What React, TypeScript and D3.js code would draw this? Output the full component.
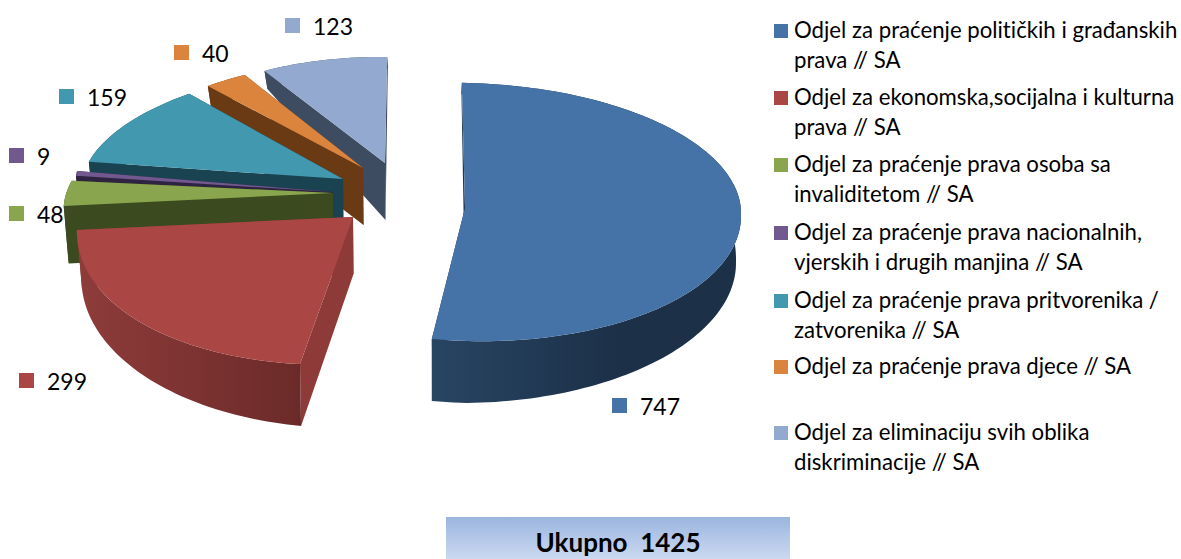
import React from "react";
import * as d3 from "d3";

const W = 1181;
const H = 559;
const FONT = "Lato, Carlito, 'Open Sans', sans-serif";

const values = [747, 299, 48, 9, 159, 40, 123];
const topColors = ["#4572a7", "#aa4643", "#89a54e", "#71588f", "#4198af", "#db843d", "#93a9cf"];
const wallColors = ["#1d3750", "#8d3a38", "#3c4a20", "#2e2340", "#1a4352", "#6a3a14", "#3e4c61"];
const rimFrom = ["#284563", "#8e3c3a", "#3c4a20", "#2e2340", "#1a4352", "#6a3a14", "#3e4c61"];
const rimTo = ["#1c3048", "#6b2a29", "#3c4a20", "#2e2340", "#1a4352", "#6a3a14", "#3e4c61"];

const legendLines = [
  ["Odjel za praćenje političkih i građanskih", "prava // SA"],
  ["Odjel za ekonomska,socijalna i kulturna", "prava // SA"],
  ["Odjel za praćenje prava osoba sa", "invaliditetom // SA"],
  ["Odjel za praćenje prava nacionalnih,", "vjerskih i drugih manjina // SA"],
  ["Odjel za praćenje prava pritvorenika /", "zatvorenika // SA"],
  ["Odjel za praćenje prava djece // SA"],
  ["Odjel za eliminaciju svih oblika", "diskriminacije // SA"],
];
const legendY = [31, 98, 165, 233, 301, 367, 433];
const totalLabel = "Ukupno  1425";

// Where each value label's swatch sits
const labelPos = [
  [612, 398],
  [19, 373],
  [9, 206],
  [9, 148],
  [59, 89],
  [174, 45],
  [285, 18],
];

// Each exploded wedge is seen through its own oblique frame of the unit disc
type Frame = {
  cx: number;
  cy: number;
  rx: number;
  k: number;
  kBack?: number;
  ry: number;
  ryBack?: number;
  t: number;
  bx?: number;
  bulge?: number;
};
const frames: Frame[] = [
  { cx: 465, cy: 208, rx: 276, k: 2, kBack: -3.6, ry: 133, ryBack: 125, t: 7, bx: -1 },
  { cx: 353, cy: 217, rx: 276, k: -18, ry: 149, t: 5.7, bulge: 0.03 },
  { cx: 333, cy: 193, rx: 266, k: -43, ry: 119, t: 1.9 },
  { cx: 333, cy: 192, rx: 258, k: 0, ry: 120, t: 5.8 },
  { cx: 343, cy: 179, rx: 260, k: -30, ry: 113, t: 2.9 },
  { cx: 363, cy: 168, rx: 250, k: -19, ry: 108, t: 3.7 },
  { cx: 385, cy: 163, rx: 237, k: -8, ry: 106, t: 5 },
];

const rad = (d: number) => (d * Math.PI) / 180;
const pie = d3
  .pie<number>()
  .sort(null)
  .startAngle(rad(-1.4))
  .endAngle(rad(358.6));

function project(f: Frame, a: number, r: number, lower: boolean): [number, number] {
  const X = r * Math.sin(a);
  const Y = -r * Math.cos(a);
  const ry = Y < 0 && f.ryBack ? f.ryBack : f.ry;
  const k = Y < 0 && f.kBack !== undefined ? f.kBack : f.k;
  const x = f.cx + f.rx * X + k * Y;
  const y = f.cy + ry * Y + f.t * X;
  if (!lower) return [x, y];
  const h = (Y >= 0 ? 57 + 5 * Y : 57 + 46 * Y) - 10 * Math.max(X, 0);
  return [x - 4.5 * X + 0.5 + (f.bx ?? 0), y + h];
}

const line = d3.line();

function rim(f: Frame, a0: number, a1: number, lower: boolean): [number, number][] {
  const n = Math.max(2, Math.ceil(Math.abs(a1 - a0) / rad(1.5)));
  return d3.range(n + 1).map((i) => {
    const swell = lower || !f.bulge ? 1 : 1 + f.bulge * Math.sin((Math.PI * i) / n);
    return project(f, a0 + ((a1 - a0) * i) / n, swell, lower);
  });
}

export default function App() {
  const arcs = pie(values);
  const order = [6, 5, 4, 3, 2, 1, 0];
  return (
    <svg
      width={W}
      height={H}
      viewBox={`0 0 ${W} ${H}`}
      style={{
        position: "fixed",
        left: 0,
        top: 0,
        background: "#fff",
        fontFamily: FONT,
        fontVariantLigatures: "none",
      }}
    >
      <defs>
        {values.map((_, i) => (
          <linearGradient key={i} id={`rim${i}`} x1="0" x2="1" y1="0" y2="0">
            <stop offset="0" stopColor={rimFrom[i]} />
            <stop offset={i === 0 ? "0.6" : "1"} stopColor={rimTo[i]} />
          </linearGradient>
        ))}
        <linearGradient id="totalFill" x1="0" x2="0" y1="0" y2="1">
          <stop offset="0" stopColor="#9bb5e0" />
          <stop offset="1" stopColor="#cbd9f0" />
        </linearGradient>
      </defs>

      {order.map((i) => {
        const f = frames[i];
        const { startAngle: a0, endAngle: a1 } = arcs[i];
        const apexT = project(f, 0, 0, false);
        const apexB = project(f, 0, 0, true);
        const wall = (a: number) =>
          line([project(f, a, 1, false), project(f, a, 1, true), apexB, apexT])! + "Z";
        const outer = line([...rim(f, a0, a1, false), ...rim(f, a1, a0, true)])! + "Z";
        const top = line([apexT, ...rim(f, a0, a1, false)])! + "Z";
        return (
          <g key={i}>
            <path d={wall(a1)} fill={wallColors[i]} />
            <path d={wall(a0)} fill={wallColors[i]} />
            <path d={outer} fill={`url(#rim${i})`} />
            <path d={top} fill={topColors[i]} />
          </g>
        );
      })}

      {values.map((v, i) => (
        <g key={i}>
          <rect x={labelPos[i][0]} y={labelPos[i][1]} width={15} height={15} fill={topColors[i]} />
          <text x={labelPos[i][0] + 28} y={labelPos[i][1] + 17} fontSize={23} fill="#000">
            {v}
          </text>
        </g>
      ))}

      {legendLines.map((lines, i) => (
        <g key={i}>
          <rect x={774} y={legendY[i] - 7} width={14} height={14} fill={topColors[i]} />
          {lines.map((t, j) => (
            <text key={j} x={794} y={legendY[i] + 7 + j * 29.5} fontSize={22.2} fill="#000">
              {t}
            </text>
          ))}
        </g>
      ))}

      <rect x={446} y={517} width={344} height={42} fill="url(#totalFill)" />
      <text
        x={618}
        y={552}
        textAnchor="middle"
        fontSize={26}
        fontWeight={700}
        fill="#000"
        style={{ whiteSpace: "pre" }}
      >
        {totalLabel}
      </text>
    </svg>
  );
}
